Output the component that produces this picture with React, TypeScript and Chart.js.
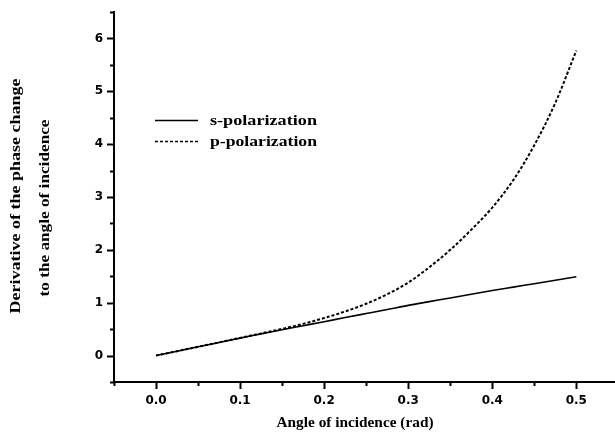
import React, { useEffect, useRef } from "react";
import { Chart, registerables } from "chart.js";

Chart.register(...registerables);

const ANGLES = [0, 0.025, 0.05, 0.075, 0.1, 0.125, 0.15, 0.175, 0.2, 0.225, 0.25, 0.275, 0.3, 0.325, 0.35, 0.375, 0.4, 0.425, 0.45, 0.475, 0.5];
const S_POL = [0, 0.083, 0.166, 0.248, 0.33, 0.41, 0.49, 0.565, 0.64, 0.72, 0.795, 0.87, 0.95, 1.02, 1.09, 1.16, 1.23, 1.295, 1.36, 1.425, 1.49];
const P_POL = [0, 0.083, 0.166, 0.25, 0.335, 0.42, 0.505, 0.6, 0.71, 0.835, 0.98, 1.16, 1.38, 1.67, 2.0, 2.38, 2.8, 3.32, 3.98, 4.78, 5.77];
const SERIES_LABELS = ["s-polarization", "p-polarization"];

const X_TICKS = [0, 0.1, 0.2, 0.3, 0.4, 0.5];
const X_MINOR = [-0.05, 0.05, 0.15, 0.25, 0.35, 0.45, 0.55];
const Y_TICKS = [0, 1, 2, 3, 4, 5, 6];
const Y_MINOR = [-0.5, 0.5, 1.5, 2.5, 3.5, 4.5, 5.5, 6.5];

const X_TITLE = "Angle of incidence (rad)";
const Y_TITLE = ["Derivative of the phase change", "to the angle of incidence"];

const SERIF = "'Liberation Serif', 'Times New Roman', serif";
const SANS = "'DejaVu Sans', Arial, sans-serif";

// draw text stretched horizontally (along its baseline) to a given length
function fitText(
  ctx: CanvasRenderingContext2D,
  text: string,
  cx: number,
  cy: number,
  length: number,
  angle: number,
  align: CanvasTextAlign = "center"
) {
  const w = ctx.measureText(text).width;
  const sx = length / w;
  ctx.save();
  ctx.translate(cx, cy);
  ctx.rotate(angle);
  ctx.scale(sx, 1);
  ctx.textAlign = align;
  ctx.textBaseline = "middle";
  ctx.fillText(text, 0, 0);
  ctx.restore();
}

const decorPlugin = {
  id: "decor",
  afterDraw(chart: any) {
    const ctx = chart.ctx as CanvasRenderingContext2D;
    const xs = chart.scales.x;
    const ys = chart.scales.y;
    const area = chart.chartArea;
    ctx.save();
    ctx.strokeStyle = "#000";
    ctx.fillStyle = "#000";
    ctx.lineCap = "butt";
    const drawX = (v: number, len: number) => {
      const px = Math.round(xs.getPixelForValue(v)) + 0.5;
      if (px < area.left - 3 || px > chart.width + 2) return;
      ctx.beginPath();
      ctx.moveTo(px, area.bottom);
      ctx.lineTo(px, area.bottom + len);
      ctx.stroke();
    };
    const drawY = (v: number, len: number) => {
      const py = Math.round(ys.getPixelForValue(v)) + 0.5;
      ctx.beginPath();
      ctx.moveTo(area.left, py);
      ctx.lineTo(area.left - len, py);
      ctx.stroke();
    };
    ctx.lineWidth = 2;
    X_TICKS.forEach((v) => drawX(v, 7));
    Y_TICKS.forEach((v) => drawY(v, 7));
    X_MINOR.forEach((v) => drawX(v, 4));
    Y_MINOR.forEach((v) => drawY(v, 4));

    // titles
    ctx.font = `bold 14px ${SERIF}`;
    fitText(ctx, X_TITLE, 355, 423, 157, 0);
    fitText(ctx, Y_TITLE[0], 16, 196, 235, -Math.PI / 2);
    fitText(ctx, Y_TITLE[1], 45, 208, 177, -Math.PI / 2);

    // legend
    const lx0 = 155;
    const lx1 = 198;
    const rows = [120, 141];
    chart.data.datasets.forEach((ds: any, i: number) => {
      const y = rows[i];
      ctx.save();
      ctx.lineWidth = 1.3;
      ctx.setLineDash(ds.borderDash || []);
      ctx.beginPath();
      ctx.moveTo(lx0, y + 0.5);
      ctx.lineTo(lx1, y + 0.5);
      ctx.stroke();
      ctx.restore();
      fitText(ctx, ds.label, 210, y + 1, 107, 0, "left");
    });
    ctx.restore();
  },
};

export default function App() {
  const ref = useRef<HTMLCanvasElement | null>(null);
  useEffect(() => {
    if (!ref.current) return;
    const chart = new Chart(ref.current, {
      type: "line",
      data: {
        datasets: [
          {
            label: SERIES_LABELS[0],
            data: ANGLES.map((a, i) => ({ x: a, y: S_POL[i] })),
            borderColor: "#000",
            borderWidth: 1.6,
            pointRadius: 0,
            cubicInterpolationMode: "monotone",
            fill: false,
          },
          {
            label: SERIES_LABELS[1],
            data: ANGLES.map((a, i) => ({ x: a, y: P_POL[i] })),
            borderColor: "#000",
            borderWidth: 2,
            borderDash: [3, 2],
            pointRadius: 0,
            cubicInterpolationMode: "monotone",
            fill: false,
          },
        ],
      },
      options: {
        responsive: false,
        animation: false,
        layout: { padding: { top: 12, left: 0, right: 0, bottom: 0 } },
        plugins: { legend: { display: false }, tooltip: { enabled: false } },
        scales: {
          x: {
            type: "linear",
            min: -0.05,
            max: 0.546,
            afterBuildTicks: (s: any) => {
              s.ticks = X_TICKS.map((v) => ({ value: v }));
            },
            afterFit: (s: any) => {
              s.height = 56;
            },
            grid: { display: true, drawOnChartArea: false, tickLength: 7, tickColor: "transparent" },
            border: { display: true, color: "#000", width: 2 },
            ticks: {
              color: "#000",
              padding: 5,
              maxRotation: 0,
              autoSkip: false,
              font: { family: SANS, size: 12, weight: "bold" },
              callback: (v: any) => Number(v).toFixed(1),
            },
          },
          y: {
            type: "linear",
            min: -0.5,
            max: 6.5,
            afterBuildTicks: (s: any) => {
              s.ticks = Y_TICKS.map((v) => ({ value: v }));
            },
            afterFit: (s: any) => {
              s.width = 114;
            },
            grid: { display: true, drawOnChartArea: false, tickLength: 7, tickColor: "transparent" },
            border: { display: true, color: "#000", width: 2 },
            ticks: {
              color: "#000",
              padding: 4,
              autoSkip: false,
              font: { family: SANS, size: 12, weight: "bold" },
              callback: (v: any) => String(v),
            },
          },
        },
      },
      plugins: [decorPlugin],
    } as any);
    return () => chart.destroy();
  }, []);
  return (
    <div style={{ position: "absolute", left: 0, top: 0, width: 615, height: 438, background: "#fff" }}>
      <canvas ref={ref} width={615} height={438} />
    </div>
  );
}
